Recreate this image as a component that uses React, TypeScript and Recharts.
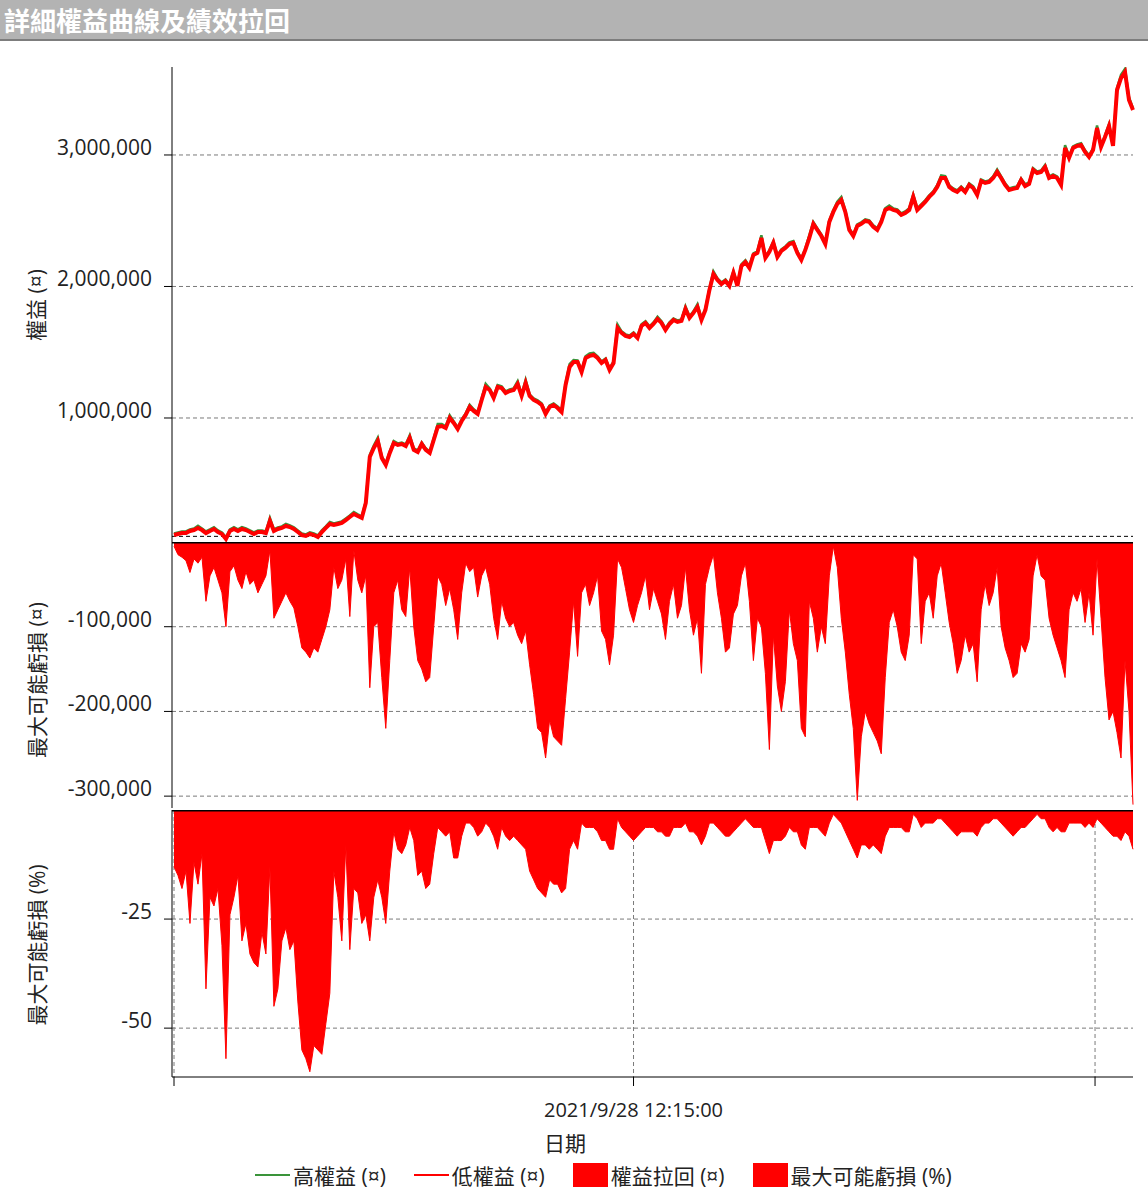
import React from 'react';
import {
  ComposedChart,
  AreaChart,
  Area,
  Line,
  XAxis,
  YAxis,
  CartesianGrid,
  ReferenceLine,
} from 'recharts';

// equity curve (high / low of each bar)
const equityHigh = [
  122000, 130000, 137000, 137000, 153000, 160000, 180000, 160000, 137000, 153000,
  170000, 145000, 130000, 92000, 153000, 170000, 153000, 170000, 160000, 145000,
  130000, 145000, 145000, 137000, 240000, 153000, 168000, 176000, 195000, 183000,
  168000, 145000, 122000, 115000, 130000, 122000, 107000, 145000, 176000, 210000,
  198000, 206000, 214000, 236000, 259000, 285000, 267000, 252000, 366000, 720000,
  790000, 850000, 708000, 655000, 746000, 825000, 807000, 814000, 799000, 870000,
  769000, 753000, 814000, 769000, 746000, 845000, 955000, 955000, 936000, 1020000,
  974000, 928000, 989000, 1035000, 1100000, 1066000, 1043000, 1149000, 1260000, 1225000,
  1164000, 1250000, 1240000, 1202000, 1217000, 1225000, 1280000, 1179000, 1290000, 1179000,
  1149000, 1134000, 1111000, 1043000, 1096000, 1111000, 1088000, 1058000, 1265000, 1410000,
  1440000, 1438000, 1362000, 1470000, 1490000, 1495000, 1468000, 1430000, 1453000, 1377000,
  1430000, 1710000, 1659000, 1636000, 1628000, 1651000, 1620000, 1712000, 1735000, 1697000,
  1727000, 1770000, 1735000, 1681000, 1727000, 1757000, 1742000, 1750000, 1850000, 1773000,
  1811000, 1865000, 1757000, 1834000, 1986000, 2115000, 2062000, 2031000, 2054000, 2016000,
  2115000, 2016000, 2168000, 2200000, 2153000, 2252000, 2267000, 2390000, 2229000, 2275000,
  2345000, 2236000, 2282000, 2305000, 2335000, 2345000, 2267000, 2214000, 2290000, 2390000,
  2490000, 2442000, 2396000, 2335000, 2503000, 2580000, 2645000, 2680000, 2579000, 2442000,
  2396000, 2472000, 2488000, 2510000, 2503000, 2465000, 2442000, 2503000, 2594000, 2615000,
  2594000, 2586000, 2556000, 2571000, 2594000, 2700000, 2594000, 2624000, 2655000, 2693000,
  2723000, 2770000, 2845000, 2840000, 2769000, 2746000, 2731000, 2761000, 2731000, 2784000,
  2761000, 2708000, 2814000, 2799000, 2807000, 2837000, 2890000, 2837000, 2784000, 2746000,
  2754000, 2761000, 2822000, 2776000, 2792000, 2900000, 2875000, 2883000, 2925000, 2837000,
  2852000, 2837000, 2784000, 3075000, 2990000, 3066000, 3081000, 3090000, 3035000, 2997000,
  3050000, 3225000, 3073000, 3149000, 3235000, 3081000, 3510000, 3610000, 3655000, 3440000,
  3354000,
];

const equityLow = [
  110000, 118000, 125000, 125000, 141000, 148000, 164000, 148000, 125000, 141000,
  156000, 133000, 118000, 80000, 141000, 156000, 141000, 156000, 148000, 133000,
  118000, 133000, 133000, 125000, 217000, 141000, 156000, 164000, 179000, 171000,
  156000, 133000, 110000, 103000, 118000, 110000, 95000, 133000, 164000, 194000,
  186000, 194000, 202000, 224000, 247000, 270000, 255000, 240000, 354000, 703000,
  772000, 825000, 696000, 643000, 734000, 810000, 795000, 802000, 787000, 848000,
  757000, 741000, 802000, 757000, 734000, 833000, 932000, 939000, 924000, 1000000,
  962000, 916000, 977000, 1023000, 1084000, 1054000, 1031000, 1137000, 1236000, 1213000,
  1152000, 1236000, 1228000, 1190000, 1205000, 1213000, 1259000, 1167000, 1266000, 1167000,
  1137000, 1122000, 1099000, 1031000, 1084000, 1099000, 1076000, 1046000, 1251000, 1388000,
  1426000, 1426000, 1350000, 1456000, 1472000, 1479000, 1456000, 1418000, 1441000, 1365000,
  1418000, 1685000, 1647000, 1624000, 1616000, 1639000, 1608000, 1700000, 1723000, 1685000,
  1715000, 1753000, 1723000, 1669000, 1715000, 1745000, 1730000, 1738000, 1829000, 1761000,
  1799000, 1844000, 1745000, 1822000, 1974000, 2095000, 2050000, 2019000, 2042000, 2004000,
  2103000, 2004000, 2156000, 2186000, 2141000, 2240000, 2255000, 2369000, 2217000, 2263000,
  2331000, 2224000, 2270000, 2293000, 2323000, 2331000, 2255000, 2202000, 2278000, 2369000,
  2476000, 2430000, 2384000, 2323000, 2491000, 2567000, 2628000, 2658000, 2567000, 2430000,
  2384000, 2460000, 2476000, 2498000, 2491000, 2453000, 2430000, 2491000, 2582000, 2597000,
  2582000, 2574000, 2544000, 2559000, 2582000, 2681000, 2582000, 2612000, 2643000, 2681000,
  2711000, 2757000, 2825000, 2825000, 2757000, 2734000, 2719000, 2749000, 2719000, 2772000,
  2749000, 2696000, 2802000, 2787000, 2795000, 2825000, 2871000, 2825000, 2772000, 2734000,
  2742000, 2749000, 2810000, 2764000, 2780000, 2886000, 2863000, 2871000, 2909000, 2825000,
  2840000, 2825000, 2772000, 3054000, 2978000, 3054000, 3069000, 3076000, 3023000, 2985000,
  3038000, 3205000, 3061000, 3137000, 3220000, 3069000, 3494000, 3585000, 3631000, 3418000,
  3342000,
];

// 權益拉回 (¤)
const drawdown = [
  -5000, -15000, -18000, -22000, -36000, -20000, -25000, -18000, -70000, -40000,
  -30000, -45000, -60000, -100000, -35000, -28000, -45000, -55000, -35000, -50000,
  -45000, -60000, -50000, -40000, -10000, -90000, -80000, -70000, -60000, -70000,
  -78000, -100000, -125000, -130000, -137000, -125000, -130000, -115000, -100000, -80000,
  -30000, -55000, -45000, -20000, -88000, -10000, -45000, -60000, -40000, -172000,
  -100000, -95000, -160000, -220000, -140000, -60000, -45000, -80000, -88000, -30000,
  -100000, -140000, -150000, -165000, -160000, -100000, -40000, -50000, -75000, -55000,
  -80000, -115000, -60000, -25000, -35000, -30000, -65000, -40000, -30000, -50000,
  -90000, -115000, -70000, -90000, -100000, -95000, -110000, -120000, -105000, -145000,
  -180000, -220000, -225000, -255000, -210000, -230000, -235000, -240000, -185000, -130000,
  -70000, -135000, -60000, -50000, -75000, -60000, -40000, -105000, -115000, -145000,
  -110000, -20000, -30000, -55000, -80000, -95000, -75000, -60000, -40000, -80000,
  -55000, -70000, -85000, -115000, -70000, -50000, -90000, -75000, -30000, -80000,
  -110000, -90000, -155000, -50000, -30000, -15000, -60000, -90000, -130000, -125000,
  -85000, -75000, -40000, -25000, -70000, -140000, -90000, -100000, -155000, -245000,
  -110000, -170000, -200000, -165000, -80000, -120000, -140000, -220000, -230000, -70000,
  -90000, -130000, -100000, -120000, -40000, -5000, -30000, -90000, -130000, -180000,
  -220000, -305000, -230000, -200000, -215000, -225000, -235000, -250000, -160000, -95000,
  -80000, -100000, -130000, -140000, -110000, -15000, -20000, -120000, -70000, -60000,
  -90000, -40000, -25000, -60000, -95000, -120000, -155000, -140000, -110000, -130000,
  -120000, -165000, -80000, -50000, -75000, -60000, -30000, -100000, -125000, -140000,
  -160000, -155000, -120000, -130000, -115000, -40000, -15000, -40000, -45000, -90000,
  -110000, -125000, -140000, -160000, -80000, -60000, -70000, -55000, -95000, -60000,
  -110000, -20000, -90000, -160000, -210000, -200000, -225000, -255000, -140000, -200000,
  -310000,
];

// 最大可能虧損 (%)
const drawdownPct = [
  -13, -15, -18, -14, -26, -12, -17, -10, -41, -20,
  -22, -18, -31, -57, -24, -20, -15, -30, -26, -33,
  -35, -36, -28, -33, -13, -45, -41, -30, -27, -32,
  -30, -44, -55, -57, -60, -54, -55, -56, -49, -42,
  -14, -20, -30, -8, -32, -18, -19, -26, -24, -30,
  -20, -16, -20, -26, -14, -5, -9, -10, -8, -4,
  -7, -15, -14, -18, -17, -10, -4, -5, -6, -5,
  -11, -11, -6, -3, -3, -4, -6, -5, -3, -4,
  -6, -9, -4, -6, -7, -6, -7, -8, -9, -14,
  -16, -18, -19, -20, -16, -17, -17, -19, -18, -9,
  -7, -9, -3, -4, -4, -4, -5, -7, -7, -9,
  -9, -2, -4, -5, -6, -7, -6, -5, -4, -4,
  -4, -5, -5, -6, -6, -4, -4, -4, -3, -5,
  -5, -6, -8, -6, -3, -3, -4, -5, -6, -6,
  -5, -4, -3, -2, -3, -4, -4, -4, -7, -10,
  -7, -7, -7, -6, -4, -5, -5, -8, -9, -4,
  -4, -4, -5, -6, -3, -1, -2, -3, -5, -7,
  -9, -11, -8, -8, -9, -8, -9, -10, -6, -4,
  -4, -4, -4, -5, -5, -1, -2, -4, -3, -3,
  -3, -2, -2, -3, -4, -5, -6, -5, -5, -5,
  -5, -6, -4, -3, -3, -2, -2, -3, -4, -5,
  -6, -5, -4, -4, -3, -2, -1, -2, -2, -4,
  -5, -4, -5, -5, -3, -3, -3, -3, -4, -3,
  -4, -2, -3, -4, -5, -6, -6, -7, -5, -6,
  -9,
];

const xTickIndex = [0, 115, 230.5];
const xTickLabels = ['', '2021/9/28 12:15:00', ''];
const equityTicks = [1000000, 2000000, 3000000];
const drawdownTicks = [-300000, -200000, -100000];
const pctTicks = [-50, -25];
const initialCapital = 100000;

const FONT = '"Open Sans", "Noto Sans CJK TC", sans-serif';
const GRID = '#7a7a7a';
const RED = '#ff0000';
const GREEN = '#3a943a';

const rows = equityLow.map((low, i) => ({
  i,
  high: equityHigh[i],
  low,
  dd: drawdown[i],
  pct: drawdownPct[i],
}));

const YTick = (props: any) => {
  const { x, y, payload } = props;
  return (
    <text x={x} y={y - 8} textAnchor="end" dominantBaseline="central" fontSize={21} fill="#222" fontFamily={FONT}>
      {Number(payload.value).toLocaleString('en-US')}
    </text>
  );
};

const XTick = (props: any) => {
  const { x, y, payload } = props;
  const label = xTickLabels[xTickIndex.indexOf(payload.value)] || '';
  return (
    <text x={x} y={y + 23} textAnchor="middle" dominantBaseline="central" fontSize={20} fill="#222" fontFamily={FONT}>
      {label}
    </text>
  );
};

const yAxisProps = {
  width: 172,
  tickSize: 8,
  tickMargin: 12,
  axisLine: { stroke: '#000' },
  tickLine: { stroke: '#000' },
  tick: <YTick />,
  allowDataOverflow: true,
  interval: 0 as const,
};

const hiddenX = (
  <XAxis
    dataKey="i"
    type="number"
    domain={[0, 240]}
    ticks={xTickIndex}
    padding={{ left: 2 }}
    height={0}
    tick={false}
    axisLine={false}
    tickLine={false}
  />
);

const grid = (values: number[]) => (
  <CartesianGrid
    stroke={GRID}
    strokeDasharray="4 3"
    syncWithTicks
    horizontalValues={values}
    verticalValues={xTickIndex}
  />
);

const AxisTitle = ({ text, x, y }: { text: string; x: number; y: number }) => (
  <div
    style={{
      position: 'absolute',
      left: x,
      top: y,
      transform: 'translate(-50%, -50%) rotate(-90deg)',
      whiteSpace: 'nowrap',
      fontSize: 21,
      color: '#222',
      fontFamily: FONT,
    }}
  >
    {text}
  </div>
);

const legendItems = [
  { name: '高權益 (¤)', kind: 'line', color: GREEN },
  { name: '低權益 (¤)', kind: 'line', color: RED },
  { name: '權益拉回 (¤)', kind: 'box', color: RED },
  { name: '最大可能虧損 (%)', kind: 'box', color: RED },
];

export default function App() {
  return (
    <div
      style={{
        position: 'absolute',
        left: 0,
        top: 0,
        width: 1148,
        height: 1194,
        background: '#fff',
        fontFamily: FONT,
        overflow: 'hidden',
      }}
    >
      <div
        style={{
          position: 'absolute',
          left: 0,
          top: 0,
          width: 1148,
          height: 41,
          background: '#b3b3b3',
          borderBottom: '2px solid #7d7d7d',
          color: '#fff',
          fontSize: 26,
          fontWeight: 700,
          lineHeight: '39px',
          paddingLeft: 4,
          boxSizing: 'border-box',
          fontFamily: '"Noto Sans CJK TC", sans-serif',
        }}
      >
        詳細權益曲線及績效拉回
      </div>

      {/* equity */}
      <div style={{ position: 'absolute', left: 0, top: 40 }}>
        <ComposedChart width={1148} height={502} data={rows} margin={{ top: 27, right: 15, bottom: 0, left: 0 }}>
          {grid(equityTicks)}
          {hiddenX}
          <YAxis {...yAxisProps} domain={[57000, 3669000]} ticks={equityTicks} />
          <ReferenceLine y={initialCapital} stroke="#000" strokeDasharray="4 3" />
          <Line type="linear" dataKey="high" stroke={GREEN} strokeWidth={2.5} dot={false} isAnimationActive={false} />
          <Line type="linear" dataKey="low" stroke={RED} strokeWidth={4} dot={false} isAnimationActive={false} />
        </ComposedChart>
      </div>

      {/* drawdown in currency */}
      <div style={{ position: 'absolute', left: 0, top: 542 }}>
        <AreaChart width={1148} height={266} data={rows} margin={{ top: 0, right: 15, bottom: 0, left: 0 }}>
          {grid(drawdownTicks)}
          {hiddenX}
          <YAxis {...yAxisProps} domain={[-314000, 0]} ticks={drawdownTicks} />
          <Area
            type="linear"
            dataKey="dd"
            stroke={RED}
            strokeWidth={1}
            fill={RED}
            fillOpacity={1}
            baseValue={0}
            isAnimationActive={false}
          />
          <ReferenceLine y={0} stroke="#000" strokeWidth={3} />
        </AreaChart>
      </div>

      {/* drawdown in percent */}
      <div style={{ position: 'absolute', left: 0, top: 810 }}>
        <AreaChart width={1148} height={317} data={rows} margin={{ top: 0, right: 15, bottom: 0, left: 0 }}>
          {grid(pctTicks)}
          <XAxis
            dataKey="i"
            type="number"
            domain={[0, 240]}
            ticks={xTickIndex}
            padding={{ left: 2 }}
            height={50}
            tickSize={9}
            tickMargin={0}
            interval={0}
            axisLine={{ stroke: '#000' }}
            tickLine={{ stroke: '#000' }}
            tick={<XTick />}
          />
          <YAxis {...yAxisProps} domain={[-61.2, 0]} ticks={pctTicks} />
          <Area
            type="linear"
            dataKey="pct"
            stroke={RED}
            strokeWidth={1}
            fill={RED}
            fillOpacity={1}
            baseValue={0}
            isAnimationActive={false}
          />
          <ReferenceLine y={0} stroke="#000" strokeWidth={3} />
        </AreaChart>
      </div>

      <AxisTitle text="權益 (¤)" x={35} y={305} />
      <AxisTitle text="最大可能虧損 (¤)" x={36} y={680} />
      <AxisTitle text="最大可能虧損 (%)" x={36} y={945} />

      <div
        style={{
          position: 'absolute',
          left: 0,
          width: 1130,
          top: 1130,
          textAlign: 'center',
          fontSize: 21,
          color: '#222',
          lineHeight: '26px',
        }}
      >
        日期
      </div>

      <div
        style={{
          position: 'absolute',
          left: 255,
          top: 1162,
          height: 26,
          display: 'flex',
          alignItems: 'center',
          gap: 28,
          fontSize: 21,
          color: '#222',
          whiteSpace: 'nowrap',
        }}
      >
        {legendItems.map((item) => (
          <div key={item.name} style={{ display: 'flex', alignItems: 'center' }}>
            {item.kind === 'line' ? (
              <div style={{ width: 35, height: 2, background: item.color, marginRight: 3 }} />
            ) : (
              <div style={{ width: 35, height: 24, background: item.color, marginRight: 3 }} />
            )}
            <span>{item.name}</span>
          </div>
        ))}
      </div>
    </div>
  );
}
